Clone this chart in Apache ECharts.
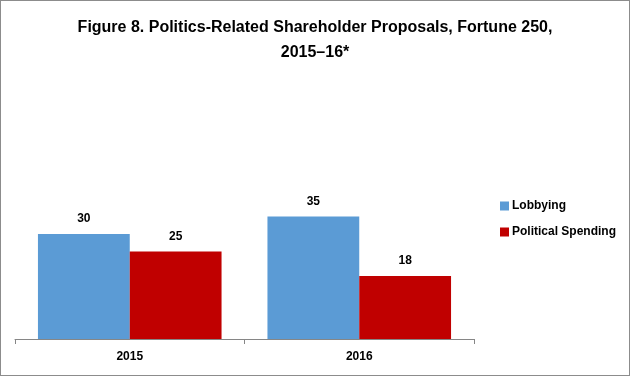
<!DOCTYPE html>
<html><head><meta charset="utf-8">
<script src="https://cdn.jsdelivr.net/npm/echarts@6/dist/echarts.min.js"></script>
<style>html,body{margin:0;padding:0;background:#fff}#c{width:630px;height:376px;box-sizing:border-box;border:1px solid #8c8c8c}</style>
</head><body><div id="c"></div>
<script>
const categories = ['2015', '2016'];
const lobbying = [30, 35];
const politicalSpending = [25, 18];
const seriesNames = ['Lobbying', 'Political Spending'];
const titleText = 'Figure 8. Politics-Related Shareholder Proposals, Fortune 250,\n2015\u201316*';

const chart = echarts.init(document.getElementById('c'), null, {renderer: 'canvas'});
const font = 'Liberation Sans';
chart.setOption({
  animation: false,
  title: {
    text: titleText, left: 'center', top: 9,
    textStyle: {fontFamily: font, fontSize: 16, fontWeight: 'bold', color: '#000', lineHeight: 25}
  },
  legend: {
    orient: 'vertical', left: 494, top: 194, itemWidth: 9, itemHeight: 9, itemGap: 14,
    icon: 'rect',
    textStyle: {fontFamily: font, fontSize: 12, fontWeight: 'bold', color: '#000', padding: [0,0,0,-2]},
    data: seriesNames
  },
  grid: {left: 14, right: 155, top: 58, bottom: 36},
  xAxis: {
    type: 'category', data: categories,
    axisLine: {lineStyle: {color: '#868686'}},
    axisTick: {show: true, length: 5, lineStyle: {color: '#868686'}},
    axisLabel: {fontFamily: font, fontSize: 12, fontWeight: 'bold', color: '#000', margin: 12}
  },
  yAxis: {type: 'value', min: 0, max: 80, show: false, splitLine: {show: false}},
  series: [
    {name: seriesNames[0], type: 'bar', data: lobbying, barGap: '0%', barCategoryGap: '20%',
     itemStyle: {color: '#5b9bd5'},
     label: {show: true, position: 'top', distance: 9, fontFamily: font, fontSize: 12, fontWeight: 'bold', color: '#000'}},
    {name: seriesNames[1], type: 'bar', data: politicalSpending,
     itemStyle: {color: '#c00000'},
     label: {show: true, position: 'top', distance: 9, fontFamily: font, fontSize: 12, fontWeight: 'bold', color: '#000'}}
  ]
});
</script></body></html>
